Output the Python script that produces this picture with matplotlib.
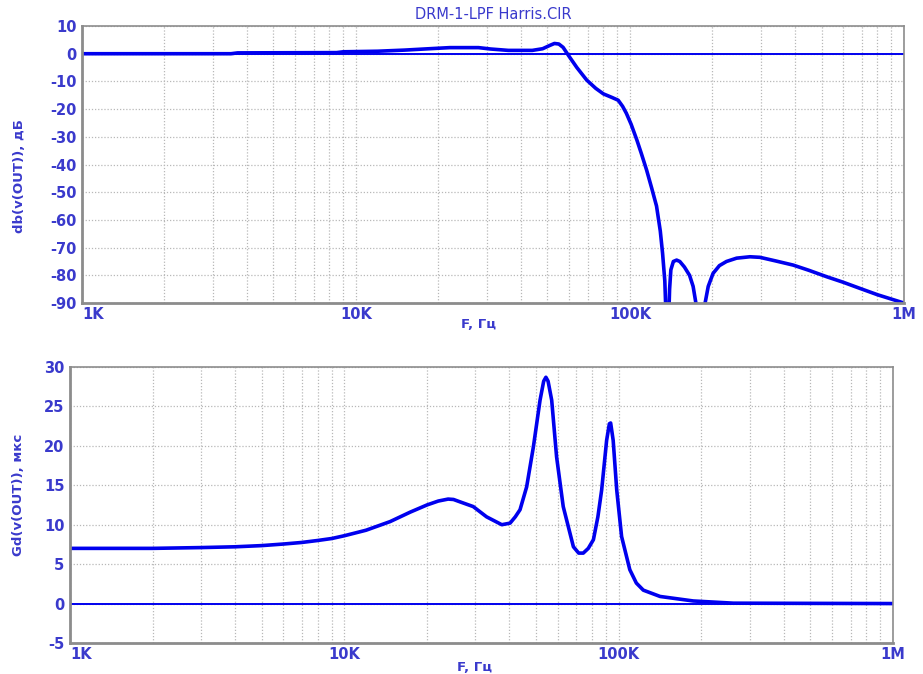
import numpy as np
import matplotlib
matplotlib.use('Agg')
import matplotlib.pyplot as plt
from matplotlib.ticker import FixedLocator, NullFormatter

# amplitude response, dB
FreqDb = [1000, 3500, 3700, 8500, 9000, 12000, 15000, 18500, 22000, 28000, 31000, 36000,
          44000, 48000, 51000, 53000, 55000, 57000, 60000, 64000, 69500, 75000, 80000,
          86000, 90600, 94000, 97000, 101000, 106000, 110000, 115000, 120000, 125000,
          129000, 131500, 134000, 136000, 138000, 139500, 141000, 144000, 148000, 152000,
          158000, 165000, 170000, 174000, 177500, 181000, 184500, 188000, 193000, 201000,
          212000, 225000, 245000, 274000, 298000, 340000, 394000, 450000, 522000, 600000,
          690000, 800000, 1000000]
Db = [0, 0, 0.3, 0.4, 0.7, 0.9, 1.3, 1.8, 2.2, 2.2, 1.7, 1.2,
      1.2, 1.8, 3.0, 3.7, 3.5, 2.3, -1.0, -5.0, -9.5, -12.5, -14.5,
      -15.8, -16.8, -19.0, -21.5, -25.5, -31.2, -36.0, -42.0, -48.5, -55.0,
      -64.0, -72.0, -82.0, -100.0, -100.0, -85.0, -78.0, -75.0, -74.5, -75.0,
      -77.0, -80.0, -84.0, -90.0, -100.0, -110.0, -100.0, -90.0, -84.0, -79.3,
      -76.5, -75.0, -73.8, -73.3, -73.5, -74.8, -76.3, -78.2, -80.5, -82.5,
      -84.7, -87.0, -90.0]

# group delay, us
FreqGd = [1000, 2000, 3000, 4000, 5000, 6000, 7000, 8000, 9000, 10000, 12000, 14700,
          17400, 20000, 22000, 23900, 25000, 26400, 29500, 33000, 37500, 40200, 42000,
          43700, 46200, 48900, 51700, 53300, 54300, 55300, 57000, 59400, 62800, 68400,
          71500, 74300, 77500, 80900, 84000, 86700, 90400, 92500, 93500, 95500, 98400,
          102500, 109800, 116000, 123000, 141600, 187000, 262000, 1000000]
Gd = [7.0, 7.0, 7.1, 7.2, 7.35, 7.55, 7.75, 8.0, 8.25, 8.6, 9.3, 10.4,
      11.6, 12.5, 13.0, 13.25, 13.2, 12.9, 12.3, 11.0, 10.0, 10.2, 11.0,
      11.9, 14.8, 19.9, 25.8, 28.2, 28.7, 28.2, 25.8, 18.6, 12.3, 7.2,
      6.4, 6.4, 7.0, 8.1, 11.0, 14.4, 20.7, 22.8, 22.9, 20.7, 14.4,
      8.5, 4.3, 2.6, 1.7, 0.9, 0.33, 0.05, 0.0]

XTicks = [1e3, 1e4, 1e5, 1e6]
XTickLabels = ['1K', '10K', '100K', '1M']
DbTicks = list(range(-90, 11, 10))
GdTicks = list(range(-5, 31, 5))

TextColor = '#3a3acc'
LineColor = '#0000ee'
FrameColor = '#8c8c8c'
GridColor = '#b8b8b8'

plt.rcParams['font.family'] = ['DejaVu Sans']
plt.rcParams['axes.unicode_minus'] = False


def StyleAxes(ax, yticks, ylim):
    ax.set_xscale('log')
    ax.set_xlim(1e3, 1e6)
    ax.set_ylim(*ylim)
    ax.set_yticks(yticks)
    ax.set_xticks(XTicks)
    ax.set_xticklabels(XTickLabels)
    minors = [m * 10 ** d for d in range(3, 6) for m in range(2, 10)]
    ax.xaxis.set_minor_locator(FixedLocator(minors))
    ax.xaxis.set_minor_formatter(NullFormatter())
    ax.grid(True, which='both', axis='x', color=GridColor, linestyle=(0, (1, 1.5)), linewidth=0.9)
    ax.grid(True, which='major', axis='y', color=GridColor, linestyle=(0, (1, 1.5)), linewidth=0.9)
    ax.tick_params(which='both', length=0, colors=TextColor, labelsize=10.5)
    ax.tick_params(axis='y', pad=4)
    ax.tick_params(axis='x', pad=3)
    for lbl in ax.get_xticklabels():
        lbl.set_fontweight('bold')
    for lbl in ax.get_yticklabels():
        lbl.set_fontweight('bold')
    ax.get_xticklabels()[0].set_horizontalalignment('left')
    for side in ax.spines.values():
        side.set_color(FrameColor)
        side.set_linewidth(1.2)
    ax.spines['left'].set_linewidth(2)
    ax.spines['bottom'].set_linewidth(2)


fig = plt.figure(figsize=(9.23, 6.74), dpi=100)

# amplitude
ax1 = fig.add_axes([0.0888, 0.5504, 0.8906, 0.4110])
ax1.axhline(0, color=LineColor, linewidth=1.4)
ax1.plot(FreqDb, Db, color=LineColor, linewidth=2.6)
StyleAxes(ax1, DbTicks, (-90, 10))

# group delay
ax2 = fig.add_axes([0.0758, 0.0460, 0.8917, 0.4095])
ax2.axhline(0, color=LineColor, linewidth=1.4)
ax2.plot(FreqGd, Gd, color=LineColor, linewidth=2.6)
StyleAxes(ax2, GdTicks, (-5, 30))

fig.text(0.534, 0.978, 'DRM-1-LPF Harris.CIR', color=TextColor, fontsize=10.5,
         ha='center', va='center')
fig.text(0.021, 0.739, 'db(v(OUT)), дБ', color=TextColor, fontsize=9.5, fontweight='bold',
         rotation=90, ha='center', va='center')
fig.text(0.020, 0.266, 'Gd(v(OUT)), мкс', color=TextColor, fontsize=9.5, fontweight='bold',
         rotation=90, ha='center', va='center')
fig.text(0.519, 0.518, 'F, Гц', color=TextColor, fontsize=9.5, fontweight='bold',
         ha='center', va='center')
fig.text(0.514, 0.010, 'F, Гц', color=TextColor, fontsize=9.5, fontweight='bold',
         ha='center', va='center')

fig.savefig('out.png', dpi=100)
